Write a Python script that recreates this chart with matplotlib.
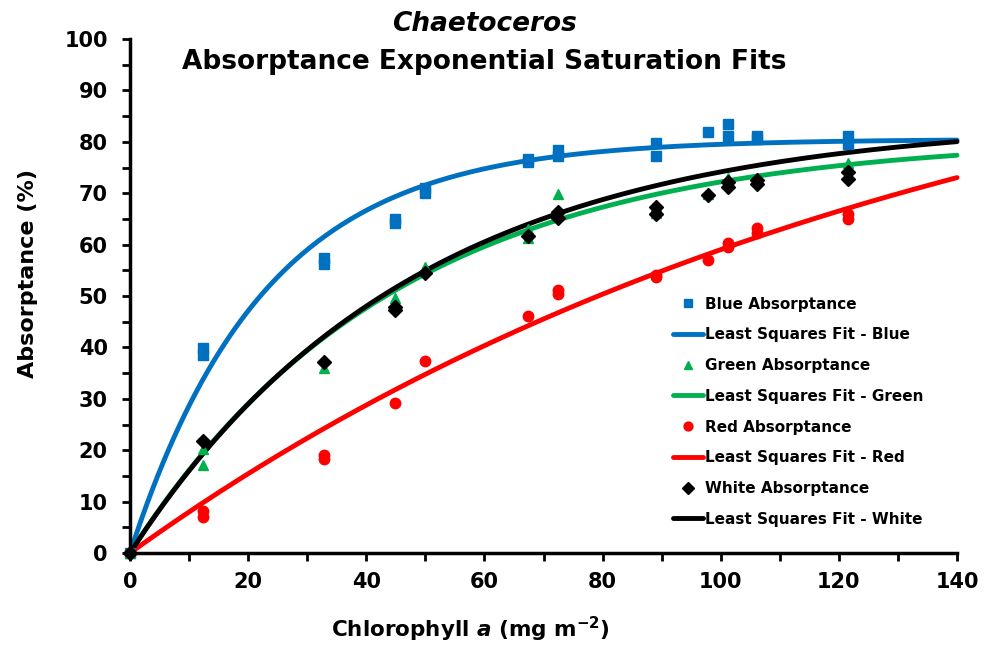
"""
Chaetoceros absorptance vs chlorophyll a, with exponential saturation fits.
"""

import matplotlib
matplotlib.use("Agg")
import matplotlib.pyplot as plt
import numpy as np
from matplotlib.ticker import MultipleLocator

plt.rcParams.update({
    "font.family": ["DejaVu Sans"],
    "font.weight": "bold",
    "mathtext.fontset": "custom",
    "mathtext.rm": "DejaVu Sans:bold",
    "mathtext.it": "DejaVu Sans:bold:italic",
    "mathtext.bf": "DejaVu Sans:bold",
})

# ── Data ─────────────────────────────────────────────────────────────────
blue_x = [0, 12.4, 12.4, 32.9, 32.9, 44.9, 44.9, 50.0, 50.0, 67.4, 67.4, 72.5, 72.5,
          89.0, 89.0, 97.9, 101.3, 101.3, 106.1, 106.1, 121.6, 121.6]
blue_y = [0, 39.8, 38.6, 57.3, 56.3, 65.0, 64.2, 71.0, 70.0, 76.7, 76.0, 78.5, 77.2,
          79.7, 77.3, 81.9, 83.5, 81.2, 81.2, 80.6, 81.2, 79.6]

green_x = [0, 12.4, 12.4, 32.9, 44.9, 50.0, 67.4, 67.4, 72.5, 89.0, 89.0, 97.9,
           101.3, 106.1, 121.6]
green_y = [0, 20.2, 17.2, 36.0, 49.6, 55.6, 63.0, 61.3, 69.8, 67.6, 66.1, 69.9,
           73.0, 72.8, 75.8]

red_x = [0, 12.4, 12.4, 32.9, 32.9, 44.9, 50.0, 67.4, 72.5, 72.5, 89.0, 89.0,
         97.9, 101.3, 101.3, 106.1, 106.1, 121.6, 121.6]
red_y = [0, 8.1, 7.0, 19.0, 18.3, 29.2, 37.4, 46.1, 51.2, 50.4, 54.1, 53.7,
         57.0, 60.3, 59.6, 63.2, 62.3, 66.0, 65.0]

white_x = [0, 12.4, 32.9, 44.9, 44.9, 50.0, 67.4, 72.5, 72.5, 89.0, 89.0, 97.9,
           101.3, 101.3, 106.1, 106.1, 121.6, 121.6]
white_y = [0, 21.8, 37.2, 47.8, 47.3, 54.5, 61.7, 66.3, 65.1, 67.3, 65.9, 69.6,
           72.2, 71.3, 72.6, 71.7, 74.1, 72.7]

# fitted A_max and k for A = A_max * (1 - exp(-k * chl))
fit_amax = {"Blue": 80.5, "Green": 81.0, "Red": 115.0, "White": 84.5}
fit_k = {"Blue": 0.044, "Green": 0.0222, "Red": 0.0072, "White": 0.021}

colors = {"Blue": "#0070C0", "Green": "#00B050", "Red": "#FF0000", "White": "#000000"}
markers = {"Blue": "s", "Green": "^", "Red": "o", "White": "D"}
points = {
    "Blue": (blue_x, blue_y),
    "Green": (green_x, green_y),
    "Red": (red_x, red_y),
    "White": (white_x, white_y),
}

fig = plt.figure(figsize=(9.89, 6.45), dpi=100)
ax = fig.add_axes([130 / 989, 1 - 553 / 645, 827 / 989, 514 / 645])

chl = np.linspace(0, 140, 300)
handles = []
for name in ["Blue", "Green", "Red", "White"]:
    fit = fit_amax[name] * (1 - np.exp(-fit_k[name] * chl))
    (ln,) = ax.plot(chl, fit, color=colors[name], lw=3.5, zorder=2,
                    solid_capstyle="round", label=f"Least Squares Fit - {name}")
    px, py = points[name]
    ms = 7.5 if name != "White" else 7
    (pt,) = ax.plot(px, py, ls="none", marker=markers[name], ms=ms,
                    color=colors[name], mec=colors[name], zorder=3,
                    label=f"{name} Absorptance")
    handles += [pt, ln]

ax.set_xlim(0, 140)
ax.set_ylim(0, 100)
ax.xaxis.set_major_locator(MultipleLocator(20))
ax.xaxis.set_minor_locator(MultipleLocator(10))
ax.yaxis.set_major_locator(MultipleLocator(10))
ax.yaxis.set_minor_locator(MultipleLocator(5))
ax.tick_params(which="both", direction="out", width=2, length=6, color="black")
ax.tick_params(which="major", labelsize=15)
ax.tick_params(axis="y", which="major", pad=10)
ax.tick_params(axis="x", which="major", pad=8)
for lab in ax.get_xticklabels() + ax.get_yticklabels():
    lab.set_fontweight("bold")

for side in ["top", "right"]:
    ax.spines[side].set_visible(False)
for side in ["left", "bottom"]:
    ax.spines[side].set_linewidth(2.5)
for artist in ax.lines:
    artist.set_clip_on(False)

# axis titles sit off-centre in the original
ax.set_xlabel(r"Chlorophyll $\it{a}$ (mg m$^{-2}$)", fontsize=15.5, fontweight="bold")
ax.xaxis.set_label_coords((470 - 130) / 827, (553 - 615) / 514)
ax.set_ylabel("Absorptance (%)", fontsize=16, fontweight="bold")
ax.yaxis.set_label_coords((38 - 130) / 827, (553 - 274) / 514)

fig.text(484 / 989, 1 - 24 / 645, "Chaetoceros", ha="center", va="center",
         fontsize=19, fontweight="bold", style="italic")
fig.text(484 / 989, 1 - 62 / 645, "Absorptance Exponential Saturation Fits",
         ha="center", va="center", fontsize=19, fontweight="bold")

ax.legend(handles=handles, loc="upper left", bbox_to_anchor=(665 / 989, 1 - 289 / 645),
          bbox_transform=fig.transFigure, frameon=False, markerscale=0.85,
          handlelength=2.0, handletextpad=0.1, labelspacing=1.03, borderpad=0,
          prop={"weight": "bold", "size": 11})

fig.savefig("out.png", dpi=100)
